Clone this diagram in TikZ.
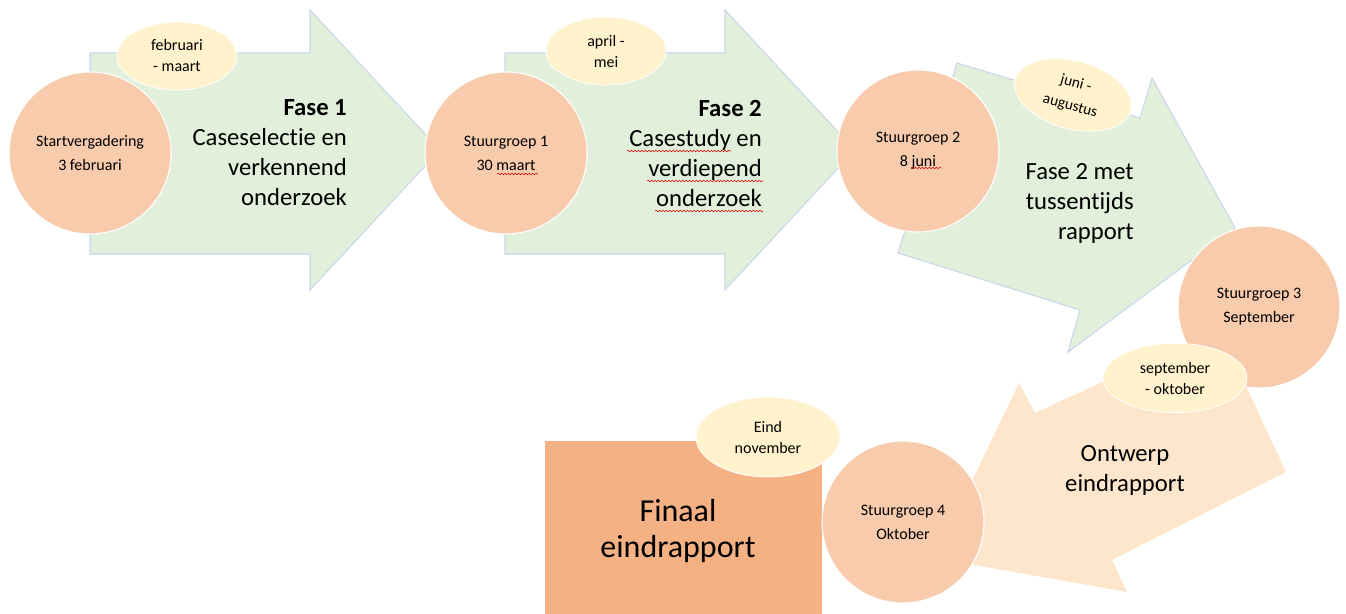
\documentclass[tikz,border=0pt]{standalone}
\usepackage{fontspec}
\setmainfont{Carlito}[Ligatures=NoCommon]
\usetikzlibrary{shapes.geometric,decorations.pathmorphing}
\definecolor{fasegreen}{HTML}{E2EFDA}
\definecolor{faseline}{HTML}{C9D7EC}
\definecolor{meetorange}{HTML}{F8CBAD}
\definecolor{bubyellow}{HTML}{FFF2CC}
\definecolor{ontpeach}{HTML}{FDE6CC}
\definecolor{finorange}{HTML}{F4B183}
\tikzset{%
  mdot/.style={draw=white,line width=0.8pt,shape=circle,fill=meetorange,minimum size=121.5pt,inner sep=0,align=center,font=\fontsize{12}{18}\selectfont},
  pbub/.style={draw=white,line width=0.6pt,shape=ellipse,fill=bubyellow,minimum width=90pt,minimum height=51pt,inner sep=0,align=center,font=\fontsize{12}{15.75}\selectfont},
  garrow/.style={draw=faseline,line width=0.8pt,fill=fasegreen,line join=miter},
  farrowtext/.style={anchor=east,align=right,inner sep=0,font=\fontsize{18.5}{22.5}\selectfont},
  squig/.style={draw=red!85!black,line width=0.4pt,decorate,decoration={snake,amplitude=0.55pt,segment length=2.6pt}}
}
\begin{document}
\begin{tikzpicture}[x=0.75pt,y=-0.75pt]
    \useasboundingbox (0,0) rectangle (1346,614);
    % fase arrows
    \path[garrow] (90,53) -- (310,53) -- (310,10) -- (440,150) -- (310,290) -- (310,254) -- (90,254) -- cycle;
    \path[garrow] (505,53) -- (725,53) -- (725,10) -- (855,150) -- (725,290) -- (725,254) -- (505,254) -- cycle;
    \path[garrow] (957,63) -- (1140,118) -- (1152,78) -- (1235,228) -- (1068,352) -- (1080,310) -- (898,253) -- cycle;
    \path[fill=ontpeach] (935,558) -- (1019,383) -- (1035,413) -- (1219,328) -- (1286,472) -- (1112,560) -- (1127,592) -- cycle;
    \node[farrowtext] (f_1) at (347,153) {\textbf{Fase 1}\\Caseselectie en\\verkennend\\onderzoek};
    \node[farrowtext] (f_2) at (762,153) {\textbf{Fase 2}\\Casestudy en\\verdiepend\\onderzoek};
    \node[farrowtext] (f_3) at (1134,203) {Fase 2 met\\tussentijds\\rapport};
    \node[align=center,inner sep=0,font=\fontsize{18.5}{22.5}\selectfont] (f_4) at (1125,470) {Ontwerp\\eindrapport};
    % eindrapport
    \node[draw=none,fill=finorange,minimum width=207.75pt,minimum height=130pt,inner sep=0,anchor=north west] (fin) at (545,441) {};
    \node[align=center,inner sep=0,font=\fontsize{24}{27}\selectfont] (fin_t) at (678,531) {Finaal\\eindrapport};
    % stuurgroepen
    \node[mdot] (s_0) at (90,153) {Startvergadering\\3 februari};
    \node[mdot] (s_1) at (506,153) {Stuurgroep 1\\30 maart};
    \node[mdot] (s_2) at (918,151) {Stuurgroep 2\\8 juni};
    \node[mdot] (s_3) at (1259,307) {Stuurgroep 3\\September};
    \node[mdot] (s_4) at (903,522) {Stuurgroep 4\\Oktober};
    % periodes
    \node[pbub] (p_1) at (177,56) {februari\\- maart};
    \node[pbub] (p_2) at (606,51) {april -\\mei};
    \node[pbub,rotate=-15,font=\fontsize{11.5}{17}\selectfont] (p_3) at (1073,95) {juni -\\augustus};
    \node[pbub,minimum width=108pt,minimum height=52pt] (p_4) at (1175,378) {september\\- oktober};
    \node[pbub,minimum width=108pt,minimum height=60pt] (p_5) at (768,437) {Eind\\november};
    % spelling marks
    \path[squig] (627,151) -- (731,151);
    \path[squig] (647,181) -- (763,181);
    \path[squig] (655,211) -- (763,211);
    \path[squig] (497,174) -- (538,174);
    \path[squig] (911,168) -- (941,168);
  \end{tikzpicture}
\end{document}
